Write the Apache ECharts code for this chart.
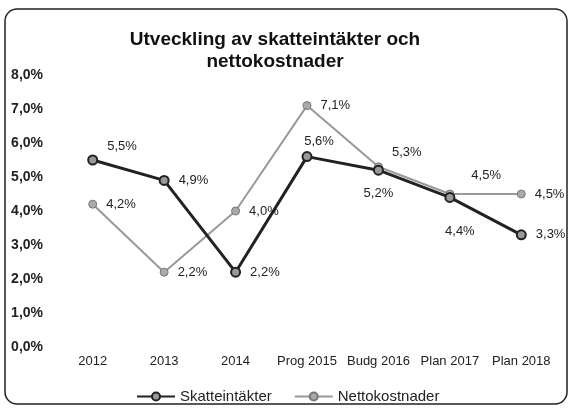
<!DOCTYPE html>
<html>
<head>
    <meta charset="utf-8">
    <title>Utveckling av skatteintäkter och nettokostnader</title>
    <script src="https://cdn.jsdelivr.net/npm/echarts@6/dist/echarts.min.js"></script>
    <style>
        html, body { margin: 0; padding: 0; background: #fff; }
        #main { width: 571px; height: 409px; }
    </style>
</head>
<body>
    <div id="main"></div>
    <script>
        var myChart = echarts.init(document.getElementById('main'));

        // kategorier
        const years = ['2012', '2013', '2014', 'Prog 2015', 'Budg 2016', 'Plan 2017', 'Plan 2018'];
        // procent
        const skatteintakter = [5.5, 4.9, 2.2, 5.6, 5.2, 4.4, 3.3];
        const nettokostnader = [4.2, 2.2, 4.0, 7.1, 5.3, 4.5, 4.5];

        // var etiketterna hamnar
        const skattLabelPos = ['topRight', 'right', 'right', 'above', 'bottom', 'bottomRight', 'right'];
        const nettoLabelPos = ['right', 'right', 'right', 'right', 'topRight', 'topFar', 'right'];

        const fmt = v => v.toFixed(1).replace('.', ',') + '%';

        function labelFor(pos) {
            if (pos === 'topRight') return { position: 'right', offset: [4, -14] };
            if (pos === 'topFar') return { position: 'right', offset: [12, -19] };
            if (pos === 'above') return { position: 'top', offset: [12, 2] };
            if (pos === 'bottom') return { position: 'bottom', offset: [0, 6] };
            if (pos === 'bottomRight') return { position: 'bottom', offset: [10, 17] };
            return { position: 'right', offset: [4, 0] };
        }

        function buildData(values, positions) {
            return values.map((v, i) => ({ value: v, label: labelFor(positions[i]) }));
        }

        const labelStyle = {
            show: true,
            color: '#222',
            fontSize: 13,
            fontFamily: 'Liberation Sans',
            formatter: p => fmt(p.value)
        };

        const option = {
            backgroundColor: '#fff',
            textStyle: { fontFamily: 'Liberation Sans' },
            title: {
                text: 'Utveckling av skatteintäkter och\nnettokostnader',
                left: 270,
                textAlign: 'center',
                top: 24,
                textStyle: {
                    fontSize: 19,
                    fontWeight: 'bold',
                    color: '#111',
                    lineHeight: 22,
                    fontFamily: 'Liberation Sans'
                }
            },
            graphic: [{
                type: 'rect',
                shape: { x: 5, y: 9, width: 562, height: 395, r: 12 },
                style: { fill: 'none', stroke: '#222', lineWidth: 1.5 },
                silent: true
            }],
            legend: {
                top: 384,
                left: 131,
                itemWidth: 38,
                itemHeight: 10,
                itemGap: 22,
                textStyle: { fontSize: 15, color: '#222' },
                data: ['Skatteintäkter', 'Nettokostnader']
            },
            grid: { left: 57, right: 14, top: 75, bottom: 62 },
            xAxis: {
                type: 'category',
                data: years,
                axisLine: { show: false },
                axisTick: { show: false },
                axisLabel: {
                    color: '#222',
                    fontSize: 13,
                    margin: 8,
                    interval: 0
                }
            },
            yAxis: {
                type: 'value',
                min: 0,
                max: 8,
                interval: 1,
                splitLine: { show: false },
                axisLabel: {
                    color: '#222',
                    fontSize: 14,
                    fontWeight: 'bold',
                    margin: 14,
                    formatter: v => v.toFixed(1).replace('.', ',') + '%'
                }
            },
            series: [
                {
                    name: 'Skatteintäkter',
                    type: 'line',
                    data: buildData(skatteintakter, skattLabelPos),
                    symbol: 'circle',
                    symbolSize: 9,
                    lineStyle: { color: '#222', width: 3 },
                    itemStyle: { color: '#999', borderColor: '#222', borderWidth: 2 },
                    label: labelStyle,
                    z: 3
                },
                {
                    name: 'Nettokostnader',
                    type: 'line',
                    data: buildData(nettokostnader, nettoLabelPos),
                    symbol: 'circle',
                    symbolSize: 8,
                    lineStyle: { color: '#999', width: 2 },
                    itemStyle: { color: '#aaa', borderColor: '#777', borderWidth: 1 },
                    label: labelStyle,
                    z: 2
                }
            ]
        };

        myChart.setOption(option);
    </script>
</body>
</html>
